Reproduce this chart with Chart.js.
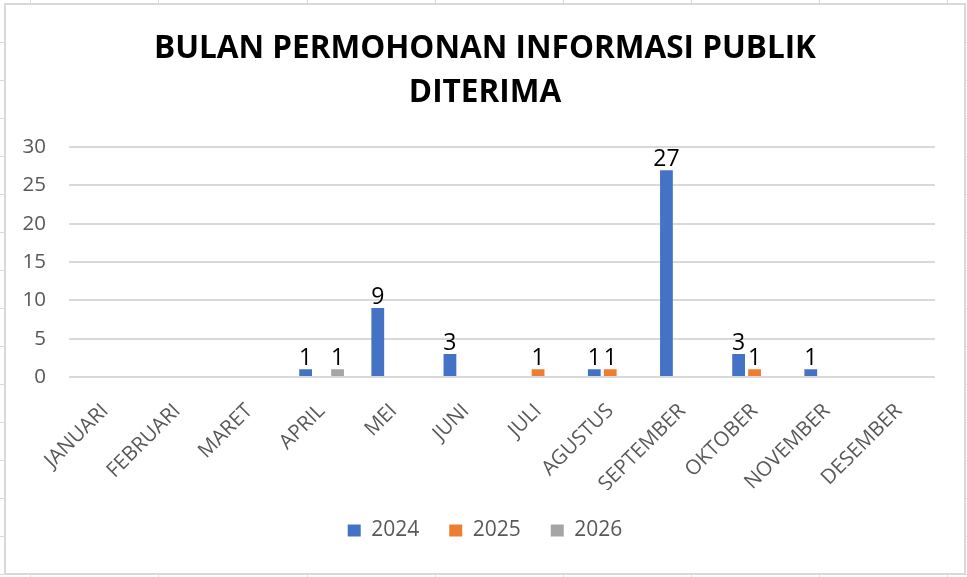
<!DOCTYPE html>
<html>
<head>
<meta charset="utf-8">
<title>Bulan Permohonan Informasi Publik Diterima</title>
<script src="https://cdn.jsdelivr.net/npm/chart.js@4.4.1/dist/chart.umd.min.js"></script>
<style>
  html, body { margin: 0; padding: 0; background: #fff; }
  body { width: 967px; height: 577px; position: relative; overflow: hidden; }
  .cell-v { position: absolute; top: 0; width: 1px; height: 577px; background: #d9d9d9; }
  .cell-h { position: absolute; left: 0; height: 1px; width: 967px; background: #d9d9d9; }
  #frame {
    position: absolute; left: 4px; top: 3px;
    width: 958px; height: 568px;
    border: 2px solid #d9d9d9; background: #fff;
  }
  #frame canvas { display: block; }
</style>
</head>
<body>
<div id="frame"><canvas id="chart"></canvas></div>
<script>
// data
const months = ['JANUARI', 'FEBRUARI', 'MARET', 'APRIL', 'MEI', 'JUNI', 'JULI',
  'AGUSTUS', 'SEPTEMBER', 'OKTOBER', 'NOVEMBER', 'DESEMBER'];
const years = ['2024', '2025', '2026'];
const values2024 = [0, 0, 0, 1, 9, 3, 0, 1, 27, 3, 1, 0];
const values2025 = [0, 0, 0, 0, 0, 0, 1, 1, 0, 1, 0, 0];
const values2026 = [0, 0, 0, 1, 0, 0, 0, 0, 0, 0, 0, 0];
const yTicks = [0, 5, 10, 15, 20, 25, 30];

const colors = ['#4472C4', '#ED7D31', '#A5A5A5'];
const textGray = '#595959';

// the spreadsheet grid that peeks out around the chart frame
[30, 158, 307, 435, 563, 691, 819, 947].forEach(x => {
  const d = document.createElement('div');
  d.className = 'cell-v';
  d.style.left = x + 'px';
  document.body.insertBefore(d, document.body.firstChild);
});
for (let y = 41.5; y < 577; y += 38) {
  const d = document.createElement('div');
  d.className = 'cell-h';
  d.style.top = Math.round(y) + 'px';
  document.body.insertBefore(d, document.body.firstChild);
}

// value labels above the non-zero bars
const barValueLabels = {
  id: 'barValueLabels',
  afterDatasetsDraw(chart) {
    const {ctx} = chart;
    ctx.save();
    ctx.font = '23px "Open Sans"';
    ctx.fillStyle = '#000';
    ctx.textAlign = 'center';
    ctx.textBaseline = 'alphabetic';
    chart.data.datasets.forEach((ds, i) => {
      const meta = chart.getDatasetMeta(i);
      meta.data.forEach((bar, j) => {
        const v = ds.data[j];
        if (!v) return;
        ctx.fillText(String(v), bar.x, bar.y - 4);
      });
    });
    ctx.restore();
  }
};

const seriesData = [values2024, values2025, values2026];

new Chart(document.getElementById('chart'), {
  type: 'bar',
  data: {
    labels: months,
    datasets: years.map((y, i) => ({
      label: y,
      data: seriesData[i],
      backgroundColor: colors[i],
      categoryPercentage: 0.664,
      barPercentage: 0.8
    }))
  },
  options: {
    responsive: true,
    maintainAspectRatio: false,
    animation: false,
    layout: { padding: { top: 0, right: 0, bottom: 22, left: 0 } },
    plugins: {
      title: {
        display: true,
        text: ['BULAN PERMOHONAN INFORMASI PUBLIK', 'DITERIMA'],
        color: '#000',
        font: { family: '"Open Sans"', size: 31.5, weight: 'bold', lineHeight: 1.4 },
        padding: { top: 22, bottom: 32 }
      },
      legend: {
        position: 'bottom',
        labels: {
          color: textGray,
          font: { family: '"Open Sans"', size: 21 },
          boxWidth: 13,
          boxHeight: 12,
          padding: 30
        }
      },
      tooltip: { enabled: false }
    },
    scales: {
      x: {
        grid: { display: false },
        border: { display: false },
        ticks: {
          color: textGray,
          font: { family: '"Open Sans"', size: 20.5 },
          minRotation: 45,
          maxRotation: 45,
          autoSkip: false,
          padding: 14
        },
        afterFit(scale) { scale.height = 113; }
      },
      y: {
        min: 0,
        max: 30,
        afterBuildTicks(scale) { scale.ticks = yTicks.map(v => ({ value: v })); },
        grid: { color: '#d9d9d9', lineWidth: 2, drawTicks: false },
        border: { display: false },
        ticks: {
          color: textGray,
          font: { family: '"Open Sans"', size: 20.5 },
          padding: 23
        },
        afterFit(scale) { scale.width = 63; }
      },
      // empty right-hand margin so title and legend stay centred on the whole frame
      yRight: {
        position: 'right',
        grid: { display: false },
        border: { display: false },
        ticks: { display: false },
        afterFit(scale) { scale.width = 29; }
      }
    }
  },
  plugins: [barValueLabels]
});
</script>
</body>
</html>
